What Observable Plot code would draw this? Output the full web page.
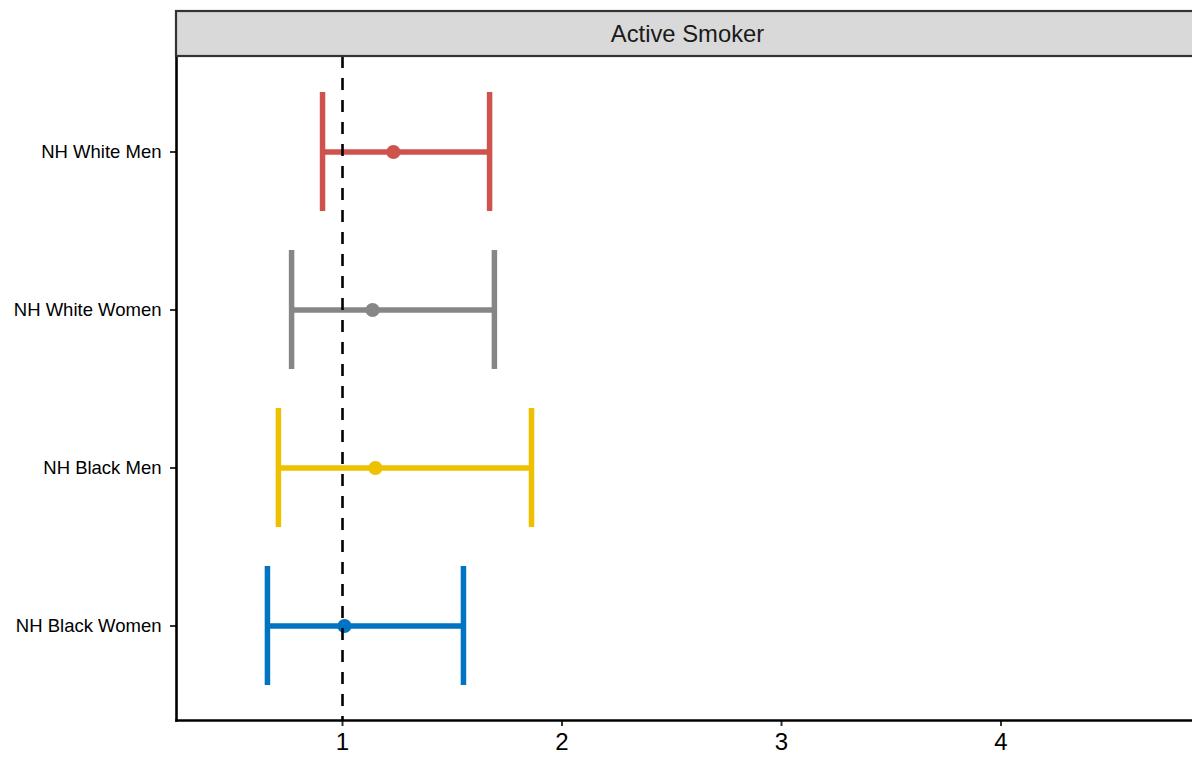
<!DOCTYPE html>
<html>
<head>
<meta charset="utf-8">
<script src="https://cdn.jsdelivr.net/npm/d3@7"></script>
<script src="https://cdn.jsdelivr.net/npm/@observablehq/plot@0.6"></script>
<style>
  html, body { margin: 0; padding: 0; background: #fff; }
  #chart svg { display: block; font-family: "Liberation Sans", Arial, sans-serif; }
</style>
</head>
<body>
<div id="chart"></div>
<script>
// ---- data ----
const facetTitle = "Active Smoker";
const groups = ["NH White Men", "NH White Women", "NH Black Men", "NH Black Women"];
const estimates = [1.232, 1.137, 1.150, 1.009];
const lower = [0.909, 0.768, 0.708, 0.658];
const upper = [1.670, 1.692, 1.861, 1.551];
const colors = ["#CD534C", "#868686", "#EFC000", "#0073C2"];
const xTicks = [1, 2, 3, 4];
const xDomain = [0.2437, 4.8724];
const refLine = 1;

const data = groups.map((g, i) => ({group: g, est: estimates[i], lo: lower[i], hi: upper[i]}));

const W = 1192, H = 758, mL = 176, mR = 0, mT = 56, mB = 38;

const plot = Plot.plot({
  width: W,
  height: H,
  marginLeft: mL,
  marginRight: mR,
  marginTop: mT,
  marginBottom: mB,
  style: {fontFamily: "Liberation Sans, Arial, sans-serif", background: "white", color: "black"},
  x: {domain: xDomain, ticks: xTicks},
  y: {type: "band", domain: groups, paddingInner: 0.25, paddingOuter: 0.225},
  color: {domain: groups, range: colors},
  marks: [
    Plot.ruleY(data, {y: "group", x1: "lo", x2: "hi", stroke: "group", strokeWidth: 5.5}),
    Plot.tickX(data, {x: "lo", y: "group", stroke: "group", strokeWidth: 5.5}),
    Plot.tickX(data, {x: "hi", y: "group", stroke: "group", strokeWidth: 5.5}),
    Plot.dot(data, {x: "est", y: "group", fill: "group", r: 7.1, stroke: "none"}),
    Plot.ruleX([refLine], {stroke: "black", strokeWidth: 2.6, strokeDasharray: "12,10"}),
    Plot.axisX({ticks: xTicks, tickFormat: d => String(d), tickSize: 6, tickPadding: 6, stroke: "#333", strokeWidth: 2, fontSize: 24, fill: "black", label: null}),
    Plot.axisY({tickSize: 6, tickPadding: 9, stroke: "#333", strokeWidth: 2, fontSize: 18.5, fill: "black", label: null}),
    Plot.frame({anchor: "bottom", stroke: "black", strokeWidth: 2.6}),
    Plot.frame({anchor: "left", stroke: "black", strokeWidth: 2.6})
  ]
});

document.getElementById("chart").appendChild(plot);

// facet strip in the top margin
const svg = d3.select(plot);
const xr = plot.scale("x").range;
const strip = svg.append("g").attr("class", "strip");
strip.append("rect")
  .attr("x", xr[0]).attr("y", 11)
  .attr("width", W - xr[0] + 8).attr("height", 45)
  .attr("fill", "#D9D9D9").attr("stroke", "#333").attr("stroke-width", 2.2);
strip.append("text")
  .attr("x", (xr[0] + W + 7) / 2).attr("y", 33.5)
  .attr("text-anchor", "middle").attr("dominant-baseline", "central")
  .attr("font-size", 23.8).attr("fill", "#1a1a1a")
  .text(facetTitle);
</script>
</body>
</html>
